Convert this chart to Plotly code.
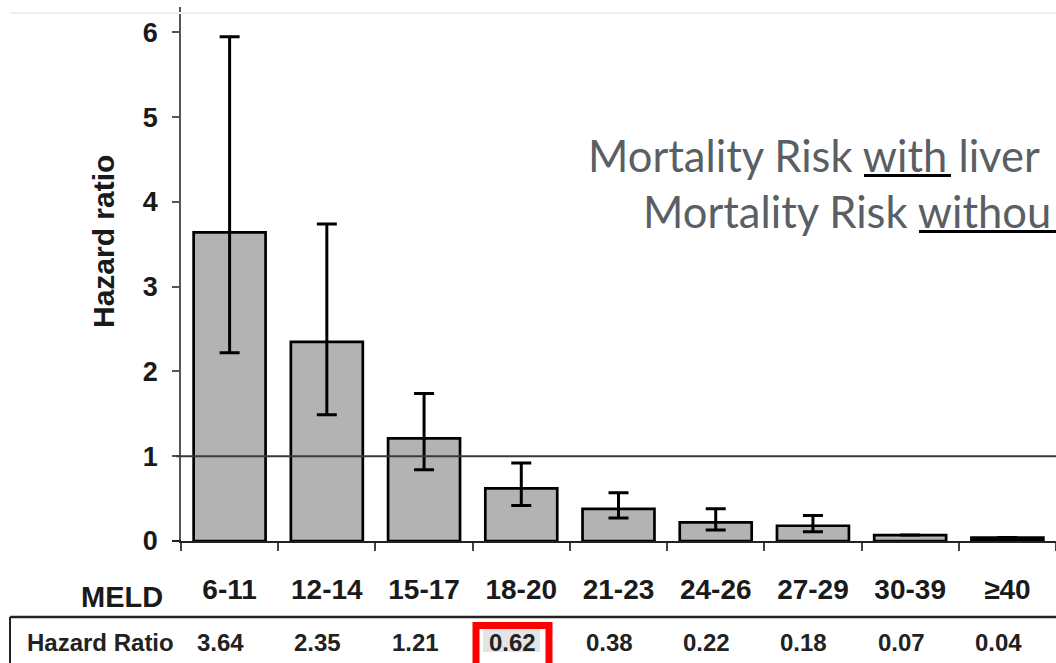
import plotly.graph_objects as go

# ---- data ----
meld = ["6-11", "12-14", "15-17", "18-20", "21-23", "24-26", "27-29", "30-39", "≥40"]
hazard = [3.64, 2.35, 1.21, 0.62, 0.38, 0.22, 0.18, 0.07, 0.04]
ci_upper = [5.95, 3.74, 1.74, 0.92, 0.57, 0.38, 0.30, None, None]
ci_lower = [2.22, 1.49, 0.84, 0.42, 0.27, 0.13, 0.11, None, None]
hr_labels = ["3.64", "2.35", "1.21", "0.62", "0.38", "0.22", "0.18", "0.07", "0.04"]
bar_colors = ["#b3b3b3"] * 8 + ["#000000"]
reference_line = 1.0
y_ticks = [0, 1, 2, 3, 4, 5, 6]
note_line1 = "Mortality Risk with liver"
note_line2 = "Mortality Risk withou"

W, H = 1056, 663
def px(x):
    return x / W
def py(y):
    return 1 - y / H

err_plus = [(u - v) if u is not None else float("nan") for u, v in zip(ci_upper, hazard)]
err_minus = [(v - l) if l is not None else float("nan") for l, v in zip(ci_lower, hazard)]

ARIAL = "Arial, Liberation Sans, Helvetica, sans-serif"
LATO = "Lato, Carlito, Calibri, sans-serif"

fig = go.Figure()
fig.add_trace(go.Bar(
    x=meld, y=hazard,
    marker=dict(color=bar_colors, line=dict(color="#000000", width=2.7)),
    error_y=dict(type="data", symmetric=False, array=err_plus, arrayminus=err_minus,
                 color="#000000", thickness=3, width=10),
    showlegend=False,
))

shapes = []
shapes.append(dict(type="line", xref="paper", yref="y", x0=px(176), x1=1, y0=reference_line, y1=reference_line,
                   line=dict(color="#3a3a3a", width=1.8), layer="above"))
shapes.append(dict(type="line", xref="paper", yref="paper", x0=px(172), x1=px(181), y0=py(541), y1=py(541),
                   line=dict(color="#222222", width=2)))
shapes.append(dict(type="line", xref="paper", yref="paper", x0=px(10), x1=1, y0=py(13), y1=py(13),
                   line=dict(color="#efefef", width=2)))
shapes.append(dict(type="line", xref="paper", yref="paper", x0=px(10), x1=1, y0=py(617), y1=py(617),
                   line=dict(color="#222222", width=2.5)))
shapes.append(dict(type="line", xref="paper", yref="paper", x0=px(10), x1=px(10), y0=py(617), y1=py(670),
                   line=dict(color="#222222", width=2)))
shapes.append(dict(type="rect", xref="paper", yref="paper", x0=px(483), x1=px(540), y0=py(628), y1=py(652),
                   fillcolor="#e4e4e4", line=dict(width=0), layer="below"))
shapes.append(dict(type="rect", xref="paper", yref="paper", x0=px(476), x1=px(549), y0=py(625.5), y1=py(680),
                   fillcolor="rgba(0,0,0,0)", line=dict(color="#ff0000", width=7)))
shapes.append(dict(type="line", xref="paper", yref="paper", x0=px(864), x1=px(951), y0=py(175.5), y1=py(175.5),
                   line=dict(color="#000000", width=3)))
shapes.append(dict(type="line", xref="paper", yref="paper", x0=px(919), x1=1.01, y0=py(231.5), y1=py(231.5),
                   line=dict(color="#000000", width=3)))

annotations = []
annotations.append(dict(xref="paper", yref="paper", x=px(586), y=py(155), xanchor="left", yanchor="middle",
                        text=note_line1, showarrow=False,
                        font=dict(family=LATO, size=43.5, color="#595f64")))
annotations.append(dict(xref="paper", yref="paper", x=px(641), y=py(211), xanchor="left", yanchor="middle",
                        text=note_line2, showarrow=False,
                        font=dict(family=LATO, size=43.5, color="#595f64")))
annotations.append(dict(xref="paper", yref="paper", x=px(103), y=py(242), xanchor="center", yanchor="middle",
                        text="Hazard ratio", textangle=-90, showarrow=False,
                        font=dict(family=ARIAL, size=30, color="#1a1a1a", weight="bold")))
annotations.append(dict(xref="paper", yref="paper", x=px(122), y=py(597), xanchor="center", yanchor="middle",
                        text="MELD", showarrow=False,
                        font=dict(family=ARIAL, size=29, color="#1a1a1a", weight="bold")))
annotations.append(dict(xref="paper", yref="paper", x=px(100), y=py(642), xanchor="center", yanchor="middle",
                        text="Hazard Ratio", showarrow=False,
                        font=dict(family=ARIAL, size=24, color="#222222", weight="bold")))
for cat, lab in zip(meld, hr_labels):
    annotations.append(dict(xref="x", yref="paper", x=cat, y=py(642), xanchor="center", yanchor="middle",
                            xshift=-9, text=lab, showarrow=False,
                            font=dict(family=ARIAL, size=24, color="#222222", weight="bold")))

fig.update_layout(
    width=W, height=H, autosize=False,
    margin=dict(l=0, r=0, t=0, b=0),
    paper_bgcolor="white", plot_bgcolor="white",
    bargap=0.26,
    shapes=shapes, annotations=annotations,
    xaxis=dict(domain=[px(181), 1], type="category", range=[-0.5, 8.5],
               showline=True, linecolor="#222222", linewidth=2,
               ticks="outside", tickson="boundaries", ticklen=8, tickwidth=1.5, tickcolor="#444444",
               showgrid=False, zeroline=False, automargin=False,
               tickfont=dict(family=ARIAL, size=28, color="#1a1a1a", weight="bold"),
               ticklabelstandoff=22),
    yaxis=dict(domain=[py(541), py(7)], range=[0, 6.3],
               tickvals=y_ticks,
               showline=True, linecolor="#555555", linewidth=1.8,
               ticks="outside", ticklen=7, tickwidth=1.5, tickcolor="#555555",
               showgrid=False, zeroline=False, automargin=False,
               tickfont=dict(family=ARIAL, size=27, color="#1a1a1a", weight="bold"),
               ticklabelstandoff=9),
)

fig.write_html("out.html", config={"displayModeBar": False},
               post_script="document.body.style.margin='0';document.body.style.overflow='hidden';")
